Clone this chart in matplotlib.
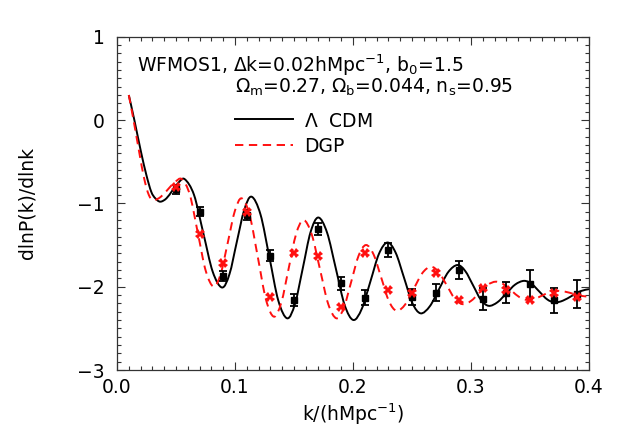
import matplotlib
matplotlib.use("Agg")
import matplotlib.pyplot as plt
from matplotlib.ticker import MultipleLocator
from matplotlib.path import Path
from matplotlib.patches import PathPatch

plt.rcParams['font.family'] = ['DejaVu Sans']
plt.rcParams['mathtext.default'] = 'regular'
plt.rcParams['lines.scale_dashes'] = False

# ---- data ----
lcdm_k = [0.0100, 0.0147, 0.0203, 0.0249, 0.0290, 0.0325, 0.0367, 0.0419, 0.0470, 0.0522,
          0.0574, 0.0653, 0.0732, 0.0811, 0.0890, 0.0953, 0.1015, 0.1078, 0.1140, 0.1216,
          0.1292, 0.1367, 0.1443, 0.1509, 0.1575, 0.1640, 0.1706, 0.1780, 0.1855, 0.1929,
          0.2003, 0.2075, 0.2148, 0.2220, 0.2292, 0.2362, 0.2433, 0.2503, 0.2573, 0.2651,
          0.2729, 0.2807, 0.2885, 0.2951, 0.3018, 0.3084, 0.3150, 0.3225, 0.3300, 0.3375,
          0.3450, 0.3515, 0.3580, 0.3645, 0.3710, 0.3780, 0.3855, 0.3930, 0.4000]
lcdm_y = [0.30, 0.00, -0.38, -0.66, -0.86, -0.94, -0.98, -0.94, -0.845, -0.75,
          -0.71, -0.90, -1.36, -1.82, -2.01, -1.85, -1.465, -1.08, -0.92, -1.133,
          -1.65, -2.167, -2.38, -2.203, -1.775, -1.347, -1.17, -1.35, -1.785, -2.22,
          -2.40, -2.264, -1.935, -1.606, -1.47, -1.594, -1.895, -2.196, -2.32, -2.235,
          -2.03, -1.825, -1.74, -1.812, -1.985, -2.158, -2.23, -2.186, -2.08, -1.974,
          -1.93, -1.968, -2.06, -2.152, -2.19, -2.167, -2.11, -2.053, -2.03]

dgp_k = [0.0100, 0.0140, 0.0190, 0.0230, 0.0270, 0.0310, 0.0370, 0.0430, 0.0490, 0.0550,
         0.06175, 0.0685, 0.07525, 0.0820, 0.0879, 0.0939, 0.0998, 0.1057, 0.1125, 0.1194,
         0.1262, 0.1330, 0.13925, 0.1455, 0.15175, 0.1580, 0.1650, 0.1720, 0.1790, 0.1860,
         0.19225, 0.1985, 0.20475, 0.2110, 0.2175, 0.2240, 0.2305, 0.2370, 0.24425, 0.2515,
         0.25875, 0.2660, 0.27275, 0.2795, 0.28625, 0.2930, 0.3000, 0.3070, 0.3140, 0.3210,
         0.32775, 0.3345, 0.34125, 0.3480, 0.35425, 0.3605, 0.36675, 0.3730, 0.37975, 0.3865,
         0.39325, 0.4000]
dgp_y = [0.30, 0.00, -0.40, -0.70, -0.90, -0.96, -0.923, -0.835, -0.747, -0.71,
         -0.898, -1.355, -1.812, -2.00, -1.845, -1.47, -1.095, -0.94, -1.147, -1.65,
         -2.153, -2.36, -2.19, -1.78, -1.37, -1.20, -1.372, -1.79, -2.208, -2.38,
         -2.252, -1.94, -1.628, -1.50, -1.615, -1.895, -2.175, -2.29, -2.213, -2.025,
         -1.837, -1.76, -1.826, -1.985, -2.144, -2.21, -2.171, -2.075, -1.979, -1.94,
         -1.972, -2.05, -2.128, -2.16, -2.144, -2.105, -2.066, -2.05, -2.06, -2.085,
         -2.11, -2.12]

pts_k = [0.05, 0.07, 0.09, 0.11, 0.13, 0.15, 0.17, 0.19, 0.21,
         0.23, 0.25, 0.27, 0.29, 0.31, 0.33, 0.35, 0.37, 0.39]
lcdm_pts = [-0.83, -1.10, -1.87, -1.14, -1.63, -2.16, -1.31, -1.96, -2.13,
            -1.56, -2.12, -2.07, -1.80, -2.15, -2.07, -1.97, -2.16, -2.09]
lcdm_err = [0.056, 0.054, 0.056, 0.064, 0.066, 0.072, 0.070, 0.074, 0.086,
            0.088, 0.096, 0.100, 0.110, 0.130, 0.130, 0.165, 0.150, 0.166]
dgp_pts = [-0.80, -1.37, -1.71, -1.10, -2.12, -1.59, -1.63, -2.24, -1.60,
           -2.04, -2.07, -1.83, -2.16, -2.01, -2.04, -2.16, -2.07, -2.12]

xticks = [0.0, 0.1, 0.2, 0.3, 0.4]
xticklabels = ["0.0", "0.1", "0.2", "0.3", "0.4"]
yticks = [-3, -2, -1, 0, 1]
yticklabels = ["\u22123", "\u22122", "\u22121", "0", "1"]

RED = '#ff1010'


def smooth_path(xs, ys):
    """Smooth (Catmull-Rom style) Bezier path running through every given point."""
    n = len(xs)
    P = list(zip(xs, ys))
    verts = [P[0]]
    codes = [Path.MOVETO]
    for i in range(n - 1):
        p0 = P[i - 1] if i > 0 else P[i]
        p1 = P[i]
        p2 = P[i + 1]
        p3 = P[i + 2] if i + 2 < n else P[i + 1]
        c1 = (p1[0] + (p2[0] - p0[0]) / 6, p1[1] + (p2[1] - p0[1]) / 6)
        c2 = (p2[0] - (p3[0] - p1[0]) / 6, p2[1] - (p3[1] - p1[1]) / 6)
        verts += [c1, c2, p2]
        codes += [Path.CURVE4] * 3
    return Path(verts, codes)


W, H = 623, 445
fig = plt.figure(figsize=(W / 100, H / 100), dpi=100)
ax = fig.add_axes([117 / W, 1 - 370 / H, (589 - 117) / W, (370 - 36.7) / H])

ax.add_patch(PathPatch(smooth_path(lcdm_k, lcdm_y), fill=False, edgecolor='black',
                       lw=1.4, joinstyle='round', capstyle='butt', zorder=2))
ax.add_patch(PathPatch(smooth_path(dgp_k, dgp_y), fill=False, edgecolor=RED,
                       lw=1.4, linestyle=(0, (6, 4)), capstyle='butt', zorder=2))

ax.errorbar(pts_k, lcdm_pts, yerr=lcdm_err, fmt='s', color='black', ms=4,
            elinewidth=1.3, capsize=3, capthick=1.3, zorder=3)
ax.plot(pts_k, dgp_pts, 'X', color=RED, ms=7, mew=0, zorder=4)

ax.set_xlim(0.0, 0.4)
ax.set_ylim(-3, 1)
ax.set_xticks(xticks)
ax.set_xticklabels(xticklabels)
ax.set_yticks(yticks)
ax.set_yticklabels(yticklabels)
ax.xaxis.set_minor_locator(MultipleLocator(0.01))
ax.yaxis.set_minor_locator(MultipleLocator(0.1))
ax.tick_params(which='both', direction='in', top=True, right=True,
               color='#333333', width=0.8, labelsize=13.5)
ax.tick_params(which='major', length=6)
ax.tick_params(which='minor', length=3)
ax.tick_params(axis='x', which='major', pad=6)
ax.tick_params(axis='y', which='major', pad=9)
for s in ax.spines.values():
    s.set_linewidth(0.9)
    s.set_color('#333333')

ax.set_xlabel("k/(hMpc$^{-1}$)", fontsize=13.5, labelpad=3)
ax.set_ylabel("dlnP(k)/dlnk", fontsize=13.5)
ax.yaxis.set_label_coords(-(117 - 37) / 472, 0.5)

fs = 13.5
fig.text(137 / W, 1 - 72 / H, "WFMOS1, $\\Delta$k=0.02hMpc$^{-1}$, b$_0$=1.5",
         fontsize=fs, va='baseline', ha='left')
fig.text(235 / W, 1 - 93 / H, "$\\Omega_m$=0.27, $\\Omega_b$=0.044, n$_s$=0.95",
         fontsize=fs, va='baseline', ha='left')
fig.text(304 / W, 1 - 127 / H, "$\\Lambda$  CDM", fontsize=fs, va='baseline', ha='left')
fig.text(304 / W, 1 - 152 / H, "DGP", fontsize=fs, va='baseline', ha='left')
fig.add_artist(plt.Line2D([235 / W, 293 / W], [1 - 119.3 / H, 1 - 119.3 / H],
                          color='black', lw=1.4, transform=fig.transFigure))
fig.add_artist(plt.Line2D([235 / W, 293 / W], [1 - 145 / H, 1 - 145 / H],
                          color=RED, lw=1.4, dashes=(6, 4), transform=fig.transFigure))

fig.savefig("out.png", dpi=100)
